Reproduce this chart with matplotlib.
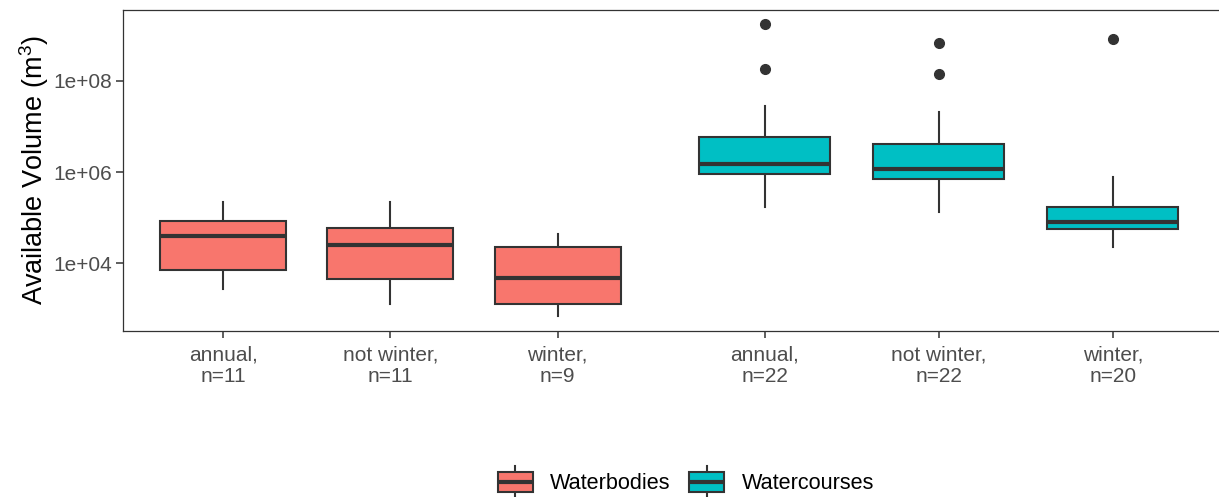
import matplotlib
matplotlib.use("Agg")
import matplotlib.pyplot as plt
from matplotlib.patches import Rectangle
from matplotlib.lines import Line2D
from matplotlib.legend_handler import HandlerBase

plt.rcParams['font.family'] = ['Liberation Sans', 'DejaVu Sans']
plt.rcParams['mathtext.fontset'] = 'custom'
plt.rcParams['mathtext.rm'] = 'Liberation Sans'
plt.rcParams['mathtext.it'] = 'Liberation Sans'

# ---- data ----
groups = ["Waterbodies", "Waterbodies", "Waterbodies",
          "Watercourses", "Watercourses", "Watercourses"]
tick_labels = ["annual,\nn=11", "not winter,\nn=11", "winter,\nn=9",
               "annual,\nn=22", "not winter,\nn=22", "winter,\nn=20"]
whisker_low = [2.7e3, 1.3e3, 7.0e2, 1.74e5, 1.33e5, 2.31e4]
q1 = [7.1e3, 4.6e3, 1.3e3, 9.08e5, 6.95e5, 5.74e4]
median = [4.0e4, 2.5e4, 4.8e3, 1.53e6, 1.17e6, 7.93e4]
q3 = [8.6e4, 5.9e4, 2.3e4, 5.89e6, 4.13e6, 1.72e5]
whisker_high = [2.21e5, 2.2e5, 4.4e4, 2.82e7, 2.11e7, 7.69e5]
outliers = [[], [], [], [1.82e8, 1.79e9], [1.40e8, 6.68e8], [8.30e8]]

colors = {"Waterbodies": "#F8766D", "Watercourses": "#00BFC4"}
line_col = "#333333"

# ---- layout ----
positions = [1, 2, 3, 4.24, 5.28, 6.32]
widths = [0.754, 0.754, 0.754, 0.784, 0.784, 0.784]

fig = plt.figure(figsize=(12.19, 4.97), dpi=100)
ax = fig.add_axes([123 / 1219, 1 - 331 / 497, (1219 - 123) / 1219 + 0.002, (331 - 9.5) / 497])

stats = []
for i in range(len(median)):
    stats.append(dict(whislo=whisker_low[i], q1=q1[i], med=median[i], q3=q3[i],
                      whishi=whisker_high[i], fliers=outliers[i]))

bp = ax.bxp(stats, positions=positions, widths=widths, patch_artist=True,
            showcaps=False,
            boxprops=dict(edgecolor=line_col, linewidth=1.5),
            whiskerprops=dict(color=line_col, linewidth=1.5),
            medianprops=dict(color=line_col, linewidth=3.0, solid_capstyle='butt'),
            flierprops=dict(marker='o', markerfacecolor=line_col, markeredgecolor=line_col,
                            markersize=7))
for patch, g in zip(bp['boxes'], groups):
    patch.set_facecolor(colors[g])
for w in bp['whiskers']:
    w.set_zorder(1)

ax.set_yscale('log')
ax.set_ylim(327, 3.68e9)
ax.set_xlim(0.401, 6.97)
ax.set_yticks([1e4, 1e6, 1e8])
ax.set_yticklabels(["1e+04", "1e+06", "1e+08"])
ax.yaxis.set_minor_locator(matplotlib.ticker.NullLocator())
ax.set_xticks(positions)
ax.set_xticklabels(tick_labels, linespacing=1.2)
ax.tick_params(axis='both', colors=line_col, labelcolor="#4D4D4D", labelsize=15,
               length=4.8, width=1.1)
ax.tick_params(axis='x', pad=5.5)
ax.tick_params(axis='y', pad=3)
for s in ax.spines.values():
    s.set_color(line_col)
    s.set_linewidth(0.9)
ax.set_ylabel("Available Volume (m$^3$)", fontsize=19.5, color="black", labelpad=2)


class BoxHandler(HandlerBase):
    def create_artists(self, legend, orig_handle, xdescent, ydescent, width, height,
                       fontsize, trans):
        fc = orig_handle.get_facecolor()
        x0, y0 = -xdescent, -ydescent
        r = Rectangle((x0, y0 + height * 0.1), width, height * 0.8, facecolor=fc,
                      edgecolor=line_col, linewidth=1.5, transform=trans)
        m = Line2D([x0, x0 + width], [y0 + height * 0.5] * 2, color=line_col,
                   linewidth=3.0, transform=trans, solid_capstyle='butt')
        w1 = Line2D([x0 + width / 2] * 2, [y0 + height * 0.9, y0 + height * 1.15],
                    color=line_col, linewidth=1.5, transform=trans)
        w2 = Line2D([x0 + width / 2] * 2, [y0 - height * 0.15, y0 + height * 0.1],
                    color=line_col, linewidth=1.5, transform=trans)
        return [w1, w2, r, m]


handles = [Rectangle((0, 0), 1, 1, facecolor=colors[g]) for g in ["Waterbodies", "Watercourses"]]
leg = fig.legend(handles, ["Waterbodies", "Watercourses"],
                 handler_map={Rectangle: BoxHandler()},
                 loc='center', bbox_to_anchor=(686 / 1219, 1 - 482 / 497),
                 ncol=2, frameon=False, fontsize=15.6, handlelength=1.62, handleheight=1.35,
                 handletextpad=0.8, columnspacing=0.85, borderaxespad=0)

fig.savefig("out.png", dpi=100)
